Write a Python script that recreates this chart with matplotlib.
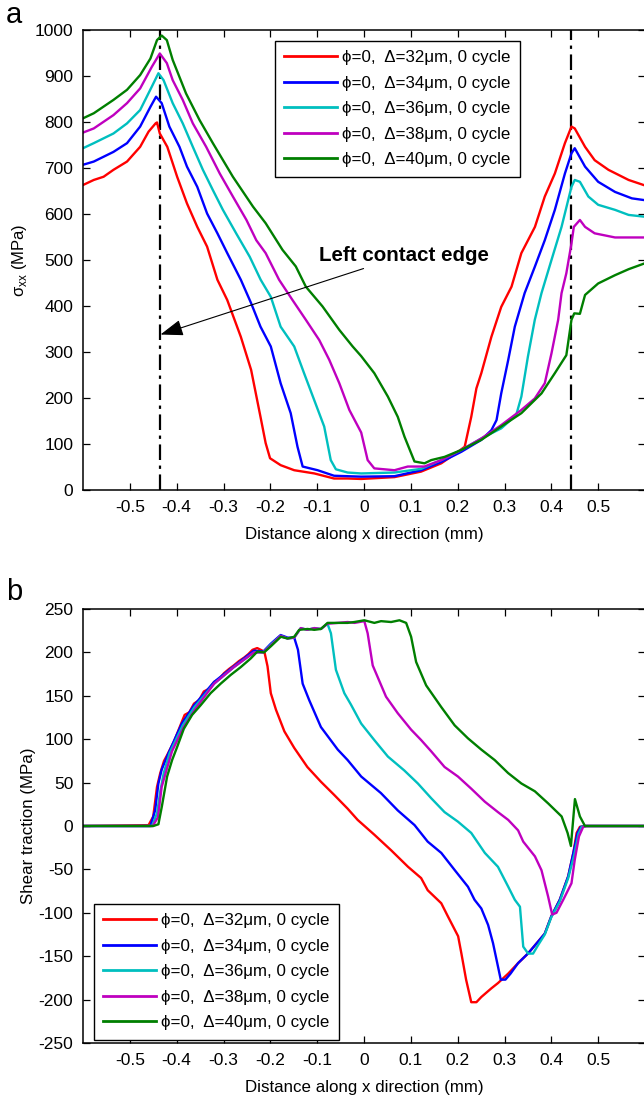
import numpy as np
import matplotlib
matplotlib.use('Agg')
import matplotlib.pyplot as plt

plt.rcParams['font.family'] = ['Liberation Sans', 'DejaVu Sans']
plt.rcParams['mathtext.fontset'] = 'custom'
plt.rcParams['mathtext.rm'] = 'Liberation Sans'
plt.rcParams['axes.unicode_minus'] = False
plt.rcParams['font.size'] = 12

#%% Datos - panel a (sigma_xx)
labels = ['ϕ=0,  Δ=32μm, 0 cycle', 'ϕ=0,  Δ=34μm, 0 cycle', 'ϕ=0,  Δ=36μm, 0 cycle',
          'ϕ=0,  Δ=38μm, 0 cycle', 'ϕ=0,  Δ=40μm, 0 cycle']
colores = ['#ff0000', '#0000ff', '#00bfbf', '#bf00bf', '#007f00']

xa_32 = [-0.6, -0.577, -0.556, -0.535, -0.506, -0.478, -0.46, -0.445, -0.442, -0.436, -0.42, -0.399,
         -0.378, -0.356, -0.335, -0.313, -0.292, -0.263, -0.241, -0.221, -0.21, -0.2006, -0.178, -0.149,
         -0.106, -0.064, -0.035, -0.006, 0.065, 0.122, 0.165, 0.2006, 0.215, 0.229, 0.240, 0.2505, 0.272,
         0.293, 0.315, 0.336, 0.365, 0.386, 0.4075, 0.429, 0.443, 0.450, 0.472, 0.4925, 0.522, 0.565, 0.6]
ya_32 = [663, 674, 681, 696, 714, 746, 779, 797, 799, 775, 746, 681, 623, 572, 529, 457, 413, 333, 261,
         159, 102, 69, 54, 43, 36, 25, 25, 24, 28, 40, 58, 83, 94, 159, 221, 254, 333, 398, 442, 515, 572,
         638, 688, 754, 790, 786, 746, 717, 696, 674, 662]

xa_34 = [-0.6, -0.577, -0.535, -0.506, -0.478, -0.456, -0.444, -0.432, -0.4156, -0.394, -0.378, -0.356,
         -0.335, -0.313, -0.292, -0.263, -0.241, -0.221, -0.199, -0.178, -0.1565, -0.142, -0.131, -0.099,
         -0.064, -0.006, 0.065, 0.122, 0.165, 0.2077, 0.2505, 0.272, 0.283, 0.293, 0.308, 0.322, 0.343,
         0.365, 0.386, 0.4075, 0.429, 0.443, 0.450, 0.472, 0.5, 0.536, 0.572, 0.6]
ya_34 = [707, 714, 735, 754, 790, 833, 855, 841, 790, 746, 703, 659, 601, 558, 515, 457, 406, 355, 312,
         232, 167, 94, 51, 43, 31, 29, 30, 43, 61, 83, 109, 130, 152, 210, 283, 355, 428, 486, 543, 609,
         688, 732, 743, 703, 670, 648, 634, 630]

xa_36 = [-0.6, -0.577, -0.535, -0.506, -0.478, -0.453, -0.439, -0.428, -0.4085, -0.387, -0.3655, -0.344,
         -0.3227, -0.3013, -0.273, -0.244, -0.2206, -0.199, -0.178, -0.149, -0.128, -0.1065, -0.085,
         -0.071, -0.060, -0.035, -0.006, 0.065, 0.122, 0.165, 0.2077, 0.2505, 0.293, 0.325, 0.336, 0.350,
         0.3647, 0.379, 0.4003, 0.4218, 0.443, 0.450, 0.461, 0.479, 0.5, 0.536, 0.565, 0.6]
ya_36 = [743, 754, 775, 797, 826, 877, 906, 891, 841, 797, 746, 696, 652, 609, 558, 507, 457, 420, 355,
         312, 254, 196, 138, 65, 45, 38, 36, 38, 46, 65, 87, 112, 134, 163, 203, 290, 370, 428, 500, 572,
         659, 674, 670, 638, 620, 609, 598, 594]

xa_38 = [-0.6, -0.577, -0.535, -0.506, -0.478, -0.453, -0.436, -0.421, -0.4085, -0.387, -0.3655, -0.337,
         -0.308, -0.28, -0.251, -0.23, -0.21, -0.1813, -0.1527, -0.1242, -0.0956, -0.0742, -0.0527,
         -0.0313, -0.006, 0.0078, 0.022, 0.065, 0.0935, 0.129, 0.165, 0.2077, 0.2505, 0.293, 0.336,
         0.3647, 0.386, 0.4003, 0.4146, 0.4218, 0.432, 0.443, 0.448, 0.461, 0.472, 0.4925, 0.536, 0.6]
ya_38 = [777, 786, 815, 841, 873, 920, 949, 928, 891, 848, 797, 746, 688, 638, 587, 543, 515, 457, 413,
         370, 326, 283, 232, 174, 125, 65, 47, 43, 51, 51, 65, 87, 112, 141, 174, 199, 232, 297, 370, 428,
         471, 536, 572, 587, 572, 558, 549, 549]

xa_40 = [-0.6, -0.577, -0.535, -0.506, -0.478, -0.456, -0.442, -0.432, -0.421, -0.4085, -0.38, -0.351,
         -0.3227, -0.28, -0.237, -0.21, -0.174, -0.1456, -0.1242, -0.0885, -0.0527, -0.0242, -0.006,
         0.022, 0.051, 0.0721, 0.0864, 0.1078, 0.1292, 0.1435, 0.172, 0.2077, 0.2505, 0.293, 0.336,
         0.379, 0.4075, 0.432, 0.443, 0.449, 0.461, 0.472, 0.5, 0.536, 0.565, 0.6]
ya_40 = [808, 819, 848, 870, 902, 938, 978, 988, 978, 935, 862, 804, 754, 681, 616, 580, 522, 486, 442,
         399, 348, 312, 291, 254, 203, 159, 116, 62, 58, 65, 72, 87, 109, 138, 167, 210, 254, 293, 370,
         384, 383, 424, 449, 467, 480, 493]

bordes = [-0.436, 0.443]   # bordes de contacto

#%% Datos - panel b (traccion de corte)
xb_32 = [-0.6, -0.46, -0.45, -0.442, -0.435, -0.427, -0.42, -0.406, -0.392, -0.383, -0.373, -0.363, -0.352,
         -0.342, -0.331, -0.32, -0.31, -0.299, -0.288, -0.278, -0.267, -0.256, -0.247, -0.238, -0.228,
         -0.217, -0.212, -0.206, -0.199, -0.188, -0.17, -0.149, -0.121, -0.092, -0.064, -0.035, -0.0135,
         0.022, 0.058, 0.094, 0.122, 0.136, 0.165, 0.179, 0.201, 0.208, 0.218, 0.229, 0.240, 0.2505,
         0.272, 0.286, 0.308, 0.329, 0.35, 0.372, 0.386, 0.400, 0.418, 0.436, 0.447, 0.454, 0.461, 0.472,
         0.6]
yb_32 = [0, 1, 11, 45, 61, 75, 82, 97, 116, 128, 131, 141, 145, 155, 158, 166, 169, 176, 181, 185, 190,
         194, 198, 203, 205, 202, 199, 184, 153, 134, 109, 90, 68, 51, 36, 20, 7, -10, -28, -47, -60, -74,
         -89, -104, -127, -147, -177, -203, -203, -197, -187, -181, -170, -158, -147, -133, -124, -104,
         -85, -58, -31, -8, -1, 0, 0]

xb_34 = [-0.6, -0.456, -0.446, -0.439, -0.432, -0.4175, -0.389, -0.363, -0.32, -0.278, -0.235, -0.215,
         -0.199, -0.178, -0.163, -0.149, -0.141, -0.131, -0.117, -0.092, -0.056, -0.035, -0.006, 0.036,
         0.072, 0.108, 0.136, 0.165, 0.194, 0.222, 0.236, 0.2505, 0.265, 0.2755, 0.292, 0.302, 0.313,
         0.329, 0.35, 0.372, 0.386, 0.400, 0.418, 0.436, 0.447, 0.456, 0.463, 0.473, 0.6]
yb_34 = [0, 0, 18, 49, 65, 84, 118, 139, 166, 184, 202, 201, 210, 220, 217, 217, 203, 164, 145, 114, 88,
         76, 57, 38, 18, 1, -18, -31, -51, -70, -85, -95, -114, -135, -177, -177, -170, -158, -147, -133,
         -124, -104, -85, -58, -31, -8, -1, 0, 0]

xb_36 = [-0.6, -0.4526, -0.4418, -0.4347, -0.4276, -0.415, -0.387, -0.362, -0.32, -0.278, -0.235, -0.215,
         -0.199, -0.178, -0.163, -0.149, -0.135, -0.121, -0.106, -0.092, -0.078, -0.0706, -0.06, -0.042,
         -0.028, -0.006, 0.022, 0.051, 0.086, 0.115, 0.1435, 0.172, 0.2006, 0.229, 0.258, 0.286, 0.308,
         0.322, 0.333, 0.340, 0.3505, 0.361, 0.372, 0.386, 0.400, 0.418, 0.436, 0.449, 0.458, 0.465,
         0.474, 0.6]
yb_36 = [0, 0, 15, 41, 61, 84, 116, 137, 164, 183, 200, 200, 209, 219, 216, 217, 228, 226, 228, 227, 233,
         222, 180, 153, 140, 118, 99, 80, 64, 49, 32, 16, 5, -8, -31, -47, -70, -85, -93, -139, -147, -147,
         -137, -125, -105, -87, -60, -33, -9, -1, 0, 0]

xb_38 = [-0.6, -0.451, -0.44, -0.432, -0.423, -0.41, -0.385, -0.36, -0.32, -0.278, -0.235, -0.215,
         -0.199, -0.178, -0.163, -0.149, -0.135, -0.121, -0.106, -0.092, -0.078, -0.056, -0.035, -0.02,
         0.0007, 0.0078, 0.0186, 0.047, 0.072, 0.1006, 0.122, 0.1435, 0.172, 0.2006, 0.229, 0.258, 0.286,
         0.308, 0.329, 0.340, 0.365, 0.379, 0.393, 0.4018, 0.411, 0.4254, 0.443, 0.450, 0.459, 0.468,
         0.475, 0.6]
yb_38 = [0, 0, 10, 45, 62, 86, 114, 135, 164, 183, 200, 200, 208, 219, 216, 217, 228, 226, 228, 227, 233,
         234, 235, 234, 236, 222, 185, 149, 130, 111, 99, 86, 68, 57, 43, 28, 16, 7, -5, -18, -35, -51,
         -81, -102, -100, -85, -66, -39, -12, -1, 0, 0]

xb_40 = [-0.6, -0.4497, -0.439, -0.4318, -0.4204, -0.4097, -0.399, -0.3847, -0.367, -0.349, -0.3276,
         -0.306, -0.2847, -0.2633, -0.2419, -0.2276, -0.2133, -0.199, -0.1776, -0.1633, -0.149, -0.1384,
         -0.1206, -0.1063, -0.092, -0.0778, -0.0564, -0.035, -0.0207, 0.0007, 0.0221, 0.0364, 0.0578,
         0.0757, 0.09, 0.1006, 0.1113, 0.1327, 0.165, 0.1935, 0.222, 0.2505, 0.279, 0.3077, 0.336, 0.3648,
         0.3933, 0.422, 0.4347, 0.4418, 0.4504, 0.461, 0.4718, 0.6]
yb_40 = [0, 0, 2, 22, 57, 76, 91, 112, 128, 139, 153, 164, 174, 183, 193, 201, 200, 207, 218, 216, 218,
         226, 227, 226, 227, 234, 234, 234, 235, 237, 234, 236, 235, 237, 234, 218, 189, 162, 137, 116,
         101, 88, 76, 61, 49, 40, 26, 11, -8, -23, 31, 11, 0, 0]

#%% Graficas
fig = plt.figure(figsize=(6.44, 11.01), dpi=100)
ax1 = fig.add_axes([83/644, 1 - 490/1101, 562/644, 460/1101])
ax2 = fig.add_axes([83/644, 1 - 1043/1101, 562/644, 434/1101])

series_a = [(xa_32, ya_32), (xa_34, ya_34), (xa_36, ya_36), (xa_38, ya_38), (xa_40, ya_40)]
series_b = [(xb_32, yb_32), (xb_34, yb_34), (xb_36, yb_36), (xb_38, yb_38), (xb_40, yb_40)]

for (x, y), c, lab in zip(series_a, colores, labels):
    ax1.plot(x, y, color=c, lw=1.7, label=lab)
for xv in bordes:
    ax1.axvline(xv, color='k', lw=1.6, ls=(0, (7, 2.5, 1.5, 2.5)), zorder=1)

for (x, y), c, lab in zip(series_b, colores, labels):
    ax2.plot(x, y, color=c, lw=1.7, label=lab)

ax1.annotate('Left contact edge', xy=(-0.4345, 338), xytext=(-0.096, 510),
             fontsize=14.8, fontweight='bold', va='center', ha='left',
             arrowprops=dict(arrowstyle='-|>,head_length=0.7,head_width=0.25', color='k',
                             lw=0.8, mutation_scale=20, shrinkA=2, shrinkB=0))

for ax in (ax1, ax2):
    ax.set_xlim(-0.6, 0.6)
    ax.set_xticks(np.round(np.arange(-0.5, 0.51, 0.1), 1))
    ax.set_xticklabels(['-0.5', '-0.4', '-0.3', '-0.2', '-0.1', '0', '0.1', '0.2', '0.3', '0.4', '0.5'])
    ax.tick_params(direction='in', top=True, right=True, length=5, width=0.9, labelsize=12.5, pad=7)
    for s in ax.spines.values():
        s.set_linewidth(1.1)
    ax.set_xlabel('Distance along x direction (mm)', fontsize=12.2, labelpad=9)

ax1.set_ylim(0, 1000)
ax1.set_yticks(np.arange(0, 1001, 100))
ax1.set_ylabel('σ$_{\\mathregular{xx}}$ (MPa)', fontsize=12, labelpad=4)

ax2.set_ylim(-250, 250)
ax2.set_yticks(np.arange(-250, 251, 50))
ax2.set_ylabel('Shear traction (MPa)', fontsize=12.2, labelpad=2)

leg_kw = dict(loc='upper left', fontsize=12.2, handlelength=3.1, handletextpad=0.3,
              labelspacing=0.62, borderpad=0.55, borderaxespad=0, fancybox=False,
              framealpha=1, edgecolor='k')
l1 = ax1.legend(bbox_to_anchor=((275 - 83) / 562, (490 - 41) / 460), **leg_kw)
l2 = ax2.legend(bbox_to_anchor=((94 - 83) / 562, (1043 - 904) / 434), **leg_kw)
for l in (l1, l2):
    l.get_frame().set_linewidth(1.0)
    for h in l.get_lines():
        h.set_linewidth(2.0)

fig.text(6/644, 1 - 15/1101, 'a', fontsize=21, va='center', ha='left')
fig.text(6/644, 1 - 592/1101, 'b', fontsize=21, va='center', ha='left')

plt.savefig('out.png', dpi=100)
